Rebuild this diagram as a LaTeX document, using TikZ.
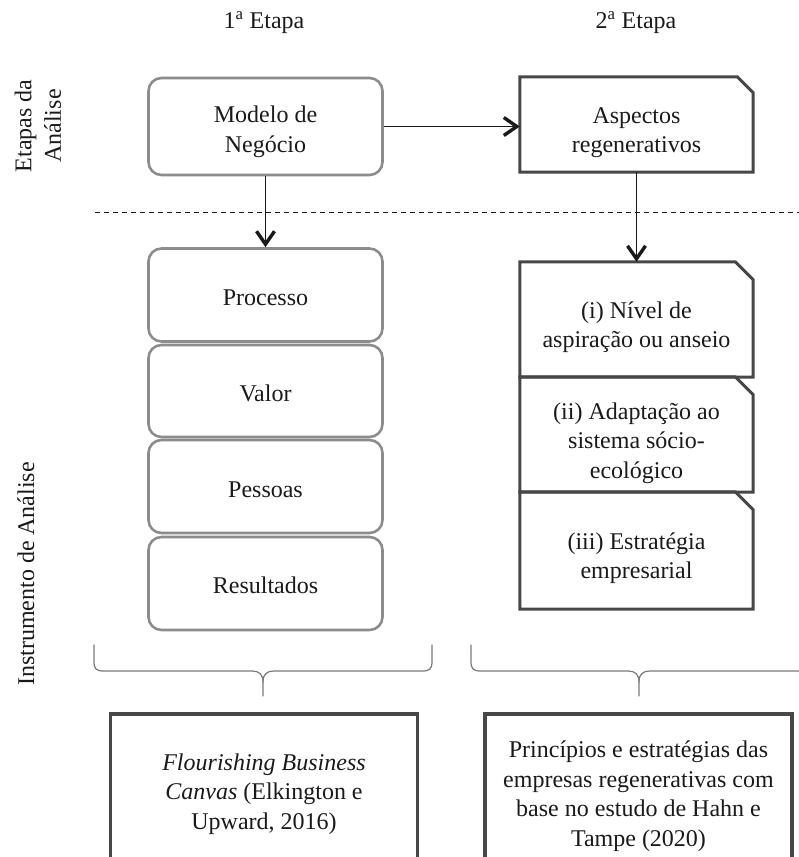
\documentclass[tikz,border=0pt]{standalone}
\usepackage{fontspec}
\setmainfont{Liberation Serif}
\usetikzlibrary{arrows.meta}

\definecolor{txt}{HTML}{1A1A1A}
\definecolor{softgray}{HTML}{8C8C8C}
\definecolor{hardgray}{HTML}{474747}
\definecolor{bracegray}{HTML}{7A7A7A}

\newcommand{\ordsup}{\textsuperscript{a}}

\begin{document}
\begin{tikzpicture}[x=1pt,y=-1pt,
  every node/.style={text=txt, font=\fontsize{24}{29.5}\selectfont, inner sep=0pt},
  lbl/.style={align=center},
  softbox/.style={draw=softgray, line width=2.6pt, rounded corners=13pt, minimum width=234pt},
  frame/.style={draw=none, minimum width=233pt},
  hardline/.style={draw=hardgray, line width=3pt, line join=miter},
  refbox/.style={draw=hardgray, line width=3.2pt, minimum width=307pt, minimum height=162pt},
  flow/.style={draw=txt, line width=1.4pt, -{Straight Barb[length=13pt, width=18pt, line width'=3.4pt]}},
  divider/.style={draw=txt, line width=1pt, dash pattern=on 5pt off 4pt},
  brace/.style={draw=bracegray, line width=1.2pt, line cap=round}
]
\clip (0,0) rectangle (799,857);

% column headings
\node (h1) at (264,23) {1\ordsup\ Etapa};
\node (h2) at (636,23) {2\ordsup\ Etapa};

% row headings
\node[lbl, rotate=90] (rowtop) at (38,126) {Etapas da\\Análise};
\node[rotate=90] (rowbottom) at (26,574) {Instrumento de Análise};

% stage 1: business model
\node[softbox, minimum height=97pt] (modelo) at (265.5,126.5) {};
\node[lbl] (tmodelo) at (265.5,132) {Modelo de\\Negócio};

% stage 2: regenerative aspects
\node[frame, minimum height=95pt] (aspectos) at (636.5,124.5) {};
\draw[hardline] (aspectos.south west) -- (aspectos.north west)
  -- ([xshift=-16pt]aspectos.north east) -- ([yshift=-16pt]aspectos.north east)
  -- (aspectos.south east) -- cycle;
\node[lbl] (taspectos) at (636.5,132.5) {Aspectos\\regenerativos};

% divider between the two rows
\coordinate (divL) at (95,212);
\coordinate (divR) at (799,212);
\draw[divider] (divL) -- (divR);

% left stack: canvas dimensions
\node[softbox, minimum height=93pt] (proc) at (265.5,295) {};
\node[softbox, minimum height=92pt] (valor) at (265.5,391) {};
\node[softbox, minimum height=93pt] (pess) at (265.5,486.5) {};
\node[softbox, minimum height=93pt] (result) at (265.5,583.5) {};
\node (tproc) at (265.5,298) {Processo};
\node (tvalor) at (265.5,393) {Valor};
\node (tpess) at (265.5,490) {Pessoas};
\node (tresult) at (265.5,585) {Resultados};

% right stack: regenerative principles
\node[frame, minimum height=115pt] (r1) at (636.5,319.5) {};
\node[frame, minimum height=115pt] (r2) at (636.5,434.5) {};
\node[frame, minimum height=117pt] (r3) at (636.5,550.5) {};
\foreach \b in {r1,r2,r3}{
  \draw[hardline] (\b.south west) -- (\b.north west)
    -- ([xshift=-18pt]\b.north east) -- ([yshift=-18pt]\b.north east)
    -- (\b.south east) -- cycle;
}
\node[lbl] (tr1) at (636.5,327) {(i) Nível de\\aspiração ou anseio};
\node[lbl] (tr2) at (636.5,443) {(ii) Adaptação ao\\sistema sócio-\\ecológico};
\node[lbl] (tr3) at (636.5,558) {(iii) Estratégia\\empresarial};

% connectors
\draw[flow] (modelo.east) -- (modelo.east -| aspectos.west);
\draw[flow] (modelo.south) -- (proc.north);
\draw[flow] (aspectos.south) -- (r1.north);

% braces
\draw[brace] (94,645) -- (94,661) .. controls (94,669) and (96,671) .. (104,671)
  -- (252,671) .. controls (259,671) and (263,674) .. (263,682) -- (263,696);
\draw[brace] (432,645) -- (432,661) .. controls (432,669) and (430,671) .. (422,671)
  -- (274,671) .. controls (267,671) and (263,674) .. (263,682);
\draw[brace] (471,645) -- (471,661) .. controls (471,669) and (473,671) .. (481,671)
  -- (628,671) .. controls (635,671) and (639,674) .. (639,682) -- (639,696);
\draw[brace] (810,671) -- (650,671) .. controls (643,671) and (639,674) .. (639,682);

% reference boxes
\node[refbox] (ref1) at (264,795) {};
\node[lbl] (tref1) at (264,794) {\textit{Flourishing Business}\\\textit{Canvas} (Elkington e\\Upward, 2016)};
\node[refbox] (ref2) at (638.5,795) {};
\node[lbl] (tref2) at (638.5,796) {Princípios e estratégias das\\empresas regenerativas com\\base no estudo de Hahn e\\Tampe (2020)};
\end{tikzpicture}
\end{document}
